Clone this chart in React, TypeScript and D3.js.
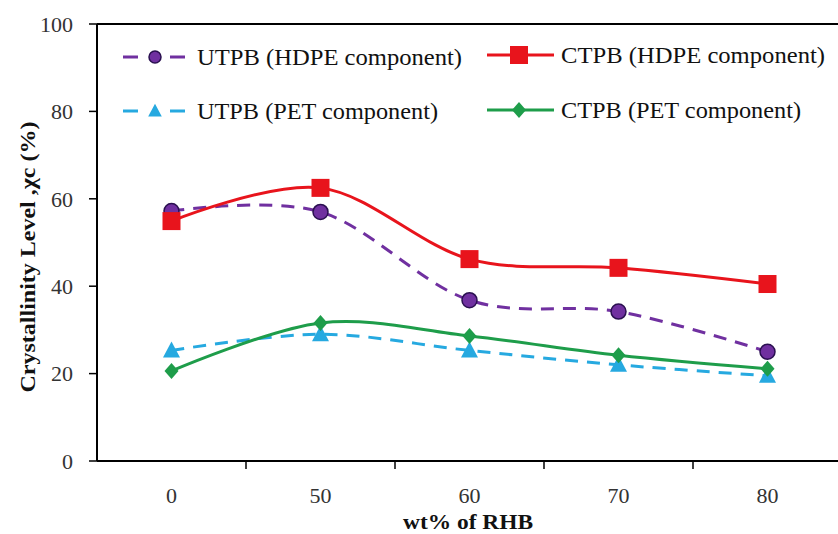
import React from "react";
import * as d3 from "d3";

const categories = ["0", "50", "60", "70", "80"];
const utpbHdpe = [57.2, 57, 36.8, 34.2, 25];
const ctpbHdpe = [54.9, 62.5, 46.2, 44.2, 40.5];
const utpbPet = [25.3, 29, 25.3, 22, 19.5];
const ctpbPet = [20.6, 31.6, 28.6, 24.2, 21.1];
const yTicks = [0, 20, 40, 60, 80, 100];

const W = 838;
const H = 534;
const left = 97;
const right = 842;
const top = 24;
const bottom = 461;

const FONT = "'Liberation Serif', 'DejaVu Serif', serif";

type Series = {
  name: string;
  values: number[];
  color: string;
  dashed: boolean;
  marker: "circle" | "square" | "triangle" | "diamond";
  lx: number;
  ly: number;
  tw: number;
};

const series: Series[] = [
  { name: "UTPB (HDPE component)", values: utpbHdpe, color: "#7030A0", dashed: true, marker: "circle", lx: 123, ly: 57, tw: 265 },
  { name: "UTPB (PET component)", values: utpbPet, color: "#26A9E0", dashed: true, marker: "triangle", lx: 123, ly: 111, tw: 241 },
  { name: "CTPB (HDPE component)", values: ctpbHdpe, color: "#E8141C", dashed: false, marker: "square", lx: 487, ly: 55, tw: 264 },
  { name: "CTPB (PET component)", values: ctpbPet, color: "#1E9D4A", dashed: false, marker: "diamond", lx: 487, ly: 110, tw: 240 },
];

function Marker({ kind, x, y, color, s = 1 }: { kind: string; x: number; y: number; color: string; s?: number }) {
  if (kind === "circle")
    return <circle cx={x} cy={y} r={7.5 * s} fill={color} stroke="#2A1050" strokeWidth={1.5} />;
  if (kind === "square")
    return <rect x={x - 9 * s} y={y - 9 * s} width={18 * s} height={18 * s} fill={color} />;
  if (kind === "triangle")
    return <path d={`M${x},${y - 9 * s} L${x + 8.5 * s},${y + 7 * s} L${x - 8.5 * s},${y + 7 * s} Z`} fill={color} />;
  return <path d={`M${x},${y - 8 * s} L${x + 7 * s},${y} L${x},${y + 8 * s} L${x - 7 * s},${y} Z`} fill={color} />;
}

export default function App() {
  const x = d3.scaleBand<string>().domain(categories).range([left, right]).padding(0);
  const y = d3.scaleLinear().domain([0, 100]).range([bottom, top]);
  const cx = (c: string) => (x(c) as number) + x.bandwidth() / 2;
  const line = d3
    .line<number>()
    .x((_, i) => cx(categories[i]))
    .y((v) => y(v))
    .curve(d3.curveCatmullRom.alpha(0));

  const xTickPos = categories.slice(1).map((c) => x(c) as number);

  return (
    <svg width={W} height={H} style={{ position: "absolute", left: 0, top: 0, background: "#fff" }}>
      <rect width={W} height={H} fill="#fff" />
      <line x1={left} x2={W} y1={top} y2={top} stroke="#000" strokeWidth={2} />
      <line x1={left} x2={left} y1={top} y2={bottom} stroke="#000" strokeWidth={2} />
      <line x1={left} x2={W} y1={bottom} y2={bottom} stroke="#000" strokeWidth={2} />
      {yTicks.map((t) => (
        <g key={t}>
          <line x1={left - 8} x2={left} y1={y(t)} y2={y(t)} stroke="#000" strokeWidth={1.5} />
          <text x={73} y={y(t)} dy="0.35em" textAnchor="end" fontFamily={FONT} fontSize={22} fill="#333">
            {t}
          </text>
        </g>
      ))}
      {xTickPos.map((p, i) => (
        <line key={i} x1={p} x2={p} y1={bottom} y2={bottom + 8} stroke="#000" strokeWidth={1.5} />
      ))}
      {categories.map((c) => (
        <text key={c} x={cx(c)} y={495} dy="0.35em" textAnchor="middle" fontFamily={FONT} fontSize={22} fill="#333">
          {c}
        </text>
      ))}
      <text x={468} y={522} dy="0.35em" textAnchor="middle" fontFamily={FONT} fontSize={21} fontWeight="bold" fill="#111" textLength={130} lengthAdjust="spacingAndGlyphs">
        wt% of RHB
      </text>
      <text
        transform={`translate(27,257) rotate(-90)`}
        dy="0.35em"
        textAnchor="middle"
        fontFamily={FONT}
        fontSize={22}
        fontWeight="bold"
        fill="#111"
        textLength={271}
        lengthAdjust="spacingAndGlyphs"
      >
        Crystallinity Level ,χc (%)
      </text>
      {series.map((s) => (
        <path
          key={s.name}
          d={line(s.values) || ""}
          fill="none"
          stroke={s.color}
          strokeWidth={3}
          strokeDasharray={s.dashed ? "13,9" : undefined}
        />
      ))}
      {series.map((s) =>
        s.values.map((v, i) => (
          <Marker key={s.name + i} kind={s.marker} x={cx(categories[i])} y={y(v)} color={s.color} />
        ))
      )}
      {series.map((s) => (
        <g key={"lg" + s.name}>
          <line
            x1={s.lx}
            x2={s.lx + 67}
            y1={s.ly}
            y2={s.ly}
            stroke={s.color}
            strokeWidth={3}
            strokeDasharray={s.dashed ? "15,32" : undefined}
          />
          <Marker kind={s.marker} x={s.lx + 32} y={s.ly} color={s.color} s={s.dashed ? 0.8 : 1} />
          <text x={s.lx + 74} y={s.ly} dy="0.35em" fontFamily={FONT} fontSize={23} fill="#111" textLength={s.tw} lengthAdjust="spacingAndGlyphs">
            {s.name}
          </text>
        </g>
      ))}
    </svg>
  );
}
